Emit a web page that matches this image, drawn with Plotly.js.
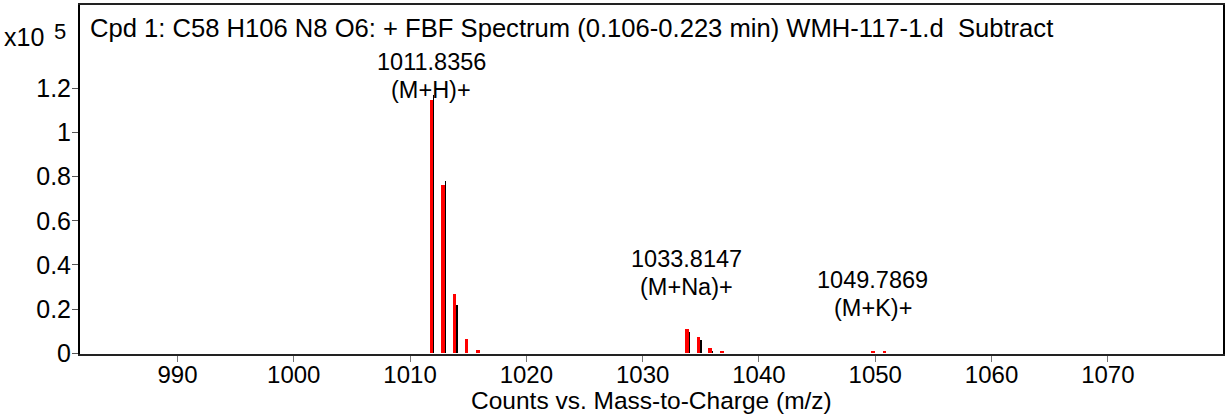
<!DOCTYPE html>
<html>
<head>
<meta charset="utf-8">
<script src="https://cdn.plot.ly/plotly-3.0.1.min.js"></script>
<style>html,body{margin:0;padding:0;background:#fff}#chart{width:1225px;height:419px}</style>
</head>
<body>
<div id="chart"></div>
<script>
// Measured (red) peaks: m/z and counts (x10^5)
const measuredMz = [1011.84, 1012.84, 1013.84, 1014.84, 1015.84, 1033.81, 1034.81, 1035.81, 1036.81, 1049.79, 1050.79];
const measuredCounts = [1.147, 0.762, 0.268, 0.065, 0.015, 0.109, 0.072, 0.023, 0.009, 0.008, 0.008];
// Predicted isotope pattern (black lines)
const predictedMz = [1011.84, 1012.84, 1013.84, 1033.81, 1034.81, 1035.81];
const predictedCounts = [1.170, 0.782, 0.216, 0.095, 0.060, 0.010];
// Peak labels (two lines each)
const labelMz = [1011.84, 1033.81, 1049.79];
const labelMass = ['1011.8356', '1033.8147', '1049.7869'];
const labelIon = ['(M+H)+', '(M+Na)+', '(M+K)+'];
const labelMassY = [1.3193, 0.4271, 0.3320];
const labelIonY = [1.1925, 0.3003, 0.2052];
const xTicks = [990, 1000, 1010, 1020, 1030, 1040, 1050, 1060, 1070];
const yTicks = [0, 0.2, 0.4, 0.6, 0.8, 1, 1.2];
const yTickText = ['0', '0.2', '0.4', '0.6', '0.8', '1', '1.2'];
const titleText = 'Cpd 1: C58 H106 N8 O6: + FBF Spectrum (0.106-0.223 min) WMH-117-1.d  Subtract';
const xTitleText = 'Counts vs. Mass-to-Charge (m/z)';

const FONT = 'Liberation Sans, Arial, sans-serif';
const fs = 25;
const f = (s) => ({family: FONT, size: s, color: '#000'});

const traces = [
  {
    type: 'bar', x: measuredMz, y: measuredCounts, width: 0.3,
    marker: {color: '#ff0000', line: {width: 0}}, hoverinfo: 'x+y'
  },
  {
    type: 'bar', x: predictedMz.map(v => v + 0.2), y: predictedCounts, width: 0.1,
    marker: {color: '#000000', line: {width: 0}}, hoverinfo: 'x+y'
  }
];

const annotations = [];
labelMz.forEach((m, i) => {
  annotations.push({x: m, y: labelMassY[i], xref: 'x', yref: 'y', yanchor: 'middle',
    text: labelMass[i], showarrow: false, font: f(23.5)});
  annotations.push({x: m, y: labelIonY[i], xref: 'x', yref: 'y', yanchor: 'middle',
    text: labelIon[i], showarrow: false, font: f(23.5)});
});
annotations.push({
  xref: 'paper', yref: 'paper', x: 0.007, y: 0.934, xanchor: 'left', yanchor: 'middle',
  text: titleText, showarrow: false, font: f(25.6)
});
annotations.push({
  xref: 'paper', yref: 'paper', x: -0.0295, y: 0.908, xanchor: 'right', yanchor: 'middle',
  text: 'x10', showarrow: false, font: f(fs)
});
annotations.push({
  xref: 'paper', yref: 'paper', x: -0.0105, y: 0.924, xanchor: 'right', yanchor: 'middle',
  text: '5', showarrow: false, font: f(22)
});
annotations.push({
  xref: 'paper', yref: 'paper', x: 0.5, y: -0.132, xanchor: 'center', yanchor: 'middle',
  text: xTitleText, showarrow: false, font: f(24.5)
});

const layout = {
  width: 1225, height: 419,
  margin: {l: 80, r: 2, t: 5, b: 65},
  paper_bgcolor: '#fff', plot_bgcolor: '#fff',
  showlegend: false, barmode: 'overlay', bargap: 0,
  font: f(fs),
  xaxis: {
    range: [981.62, 1079.9], tickvals: xTicks, ticks: 'outside', ticklen: 6, tickcolor: '#777', tickwidth: 1,
    showgrid: false, zeroline: false, showline: true, linecolor: '#222', linewidth: 2, mirror: true,
    tickfont: f(24), ticklabelstandoff: -8
  },
  yaxis: {
    range: [-0.004, 1.578], tickvals: yTicks, ticktext: yTickText, ticks: 'outside', ticklen: 6, tickcolor: '#555', tickwidth: 1,
    showgrid: false, zeroline: false, showline: true, linecolor: '#000', linewidth: 2, mirror: true,
    tickfont: f(fs), ticklabelstandoff: -4
  },
  annotations: annotations
};

Plotly.newPlot('chart', traces, layout, {displayModeBar: false, staticPlot: true});
</script>
</body>
</html>
